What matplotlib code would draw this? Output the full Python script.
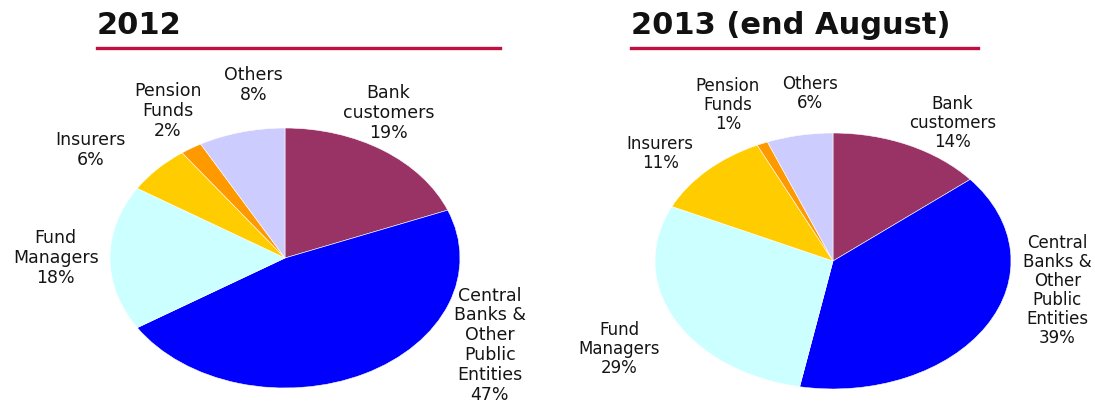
import matplotlib.pyplot as plt
from matplotlib.lines import Line2D

# Holders by type, clockwise from 12 o'clock
categories = ["Bank\ncustomers", "Central\nBanks &\nOther\nPublic\nEntities",
              "Fund\nManagers", "Insurers", "Pension\nFunds", "Others"]
shares_2012 = [19, 47, 18, 6, 2, 8]
shares_2013 = [14, 39, 29, 11, 1, 6]
titles = ["2012", "2013 (end August)"]

colors = ["#993366", "#0000FF", "#CCFFFF", "#FFCC00", "#FF9900", "#CCCCFF"]

W, H = 1095, 403
fig = plt.figure(figsize=(W / 100, H / 100), dpi=100)
plt.rcParams['font.family'] = ['DejaVu Sans']


def px_axes(left, top, w, h):
    return fig.add_axes([left / W, 1 - (top + h) / H, w / W, h / H])


# label anchors in each pie's own (-1..1) coordinates
label_pos_2012 = [(0.59, 1.115), (1.17, -0.67), (-1.31, 0.0),
                  (-1.11, 0.83), (-0.67, 1.13), (-0.18, 1.33)]
label_pos_2013 = [(0.67, 1.08), (1.26, -0.23), (-1.20, -0.69),
                  (-0.97, 0.84), (-0.59, 1.22), (-0.13, 1.31)]


def draw_pie(ax, shares, positions, fsize, lsp):
    ax.pie(shares, colors=colors, startangle=90, counterclock=False, radius=1,
           wedgeprops=dict(linewidth=0.4, edgecolor="white"))
    ax.set_aspect("auto")
    ax.set_xlim(-1, 1)
    ax.set_ylim(-1, 1)
    ax.axis("off")
    for name, val, (x, y) in zip(categories, shares, positions):
        ax.text(x, y, f"{name}\n{val}%", ha="center", va="center",
                fontsize=fsize, color="#151515", linespacing=lsp, clip_on=False)


ax1 = px_axes(110, 128, 350, 260)
draw_pie(ax1, shares_2012, label_pos_2012, 12.5, 1.13)

ax2 = px_axes(655, 133, 356, 256)
draw_pie(ax2, shares_2013, label_pos_2013, 12, 1.06)

# headings with red rule underneath
for title, x0, x1 in zip(titles, [97, 631], [500, 978]):
    fig.text(x0 / W, 1 - 34 / H, title, fontsize=22, fontweight="bold",
             color="#111111", va="baseline")
    fig.add_artist(Line2D([x0 / W, x1 / W], [1 - 48 / H] * 2,
                          color="#C0103F", linewidth=2.4))

fig.savefig("out.png", dpi=100)
